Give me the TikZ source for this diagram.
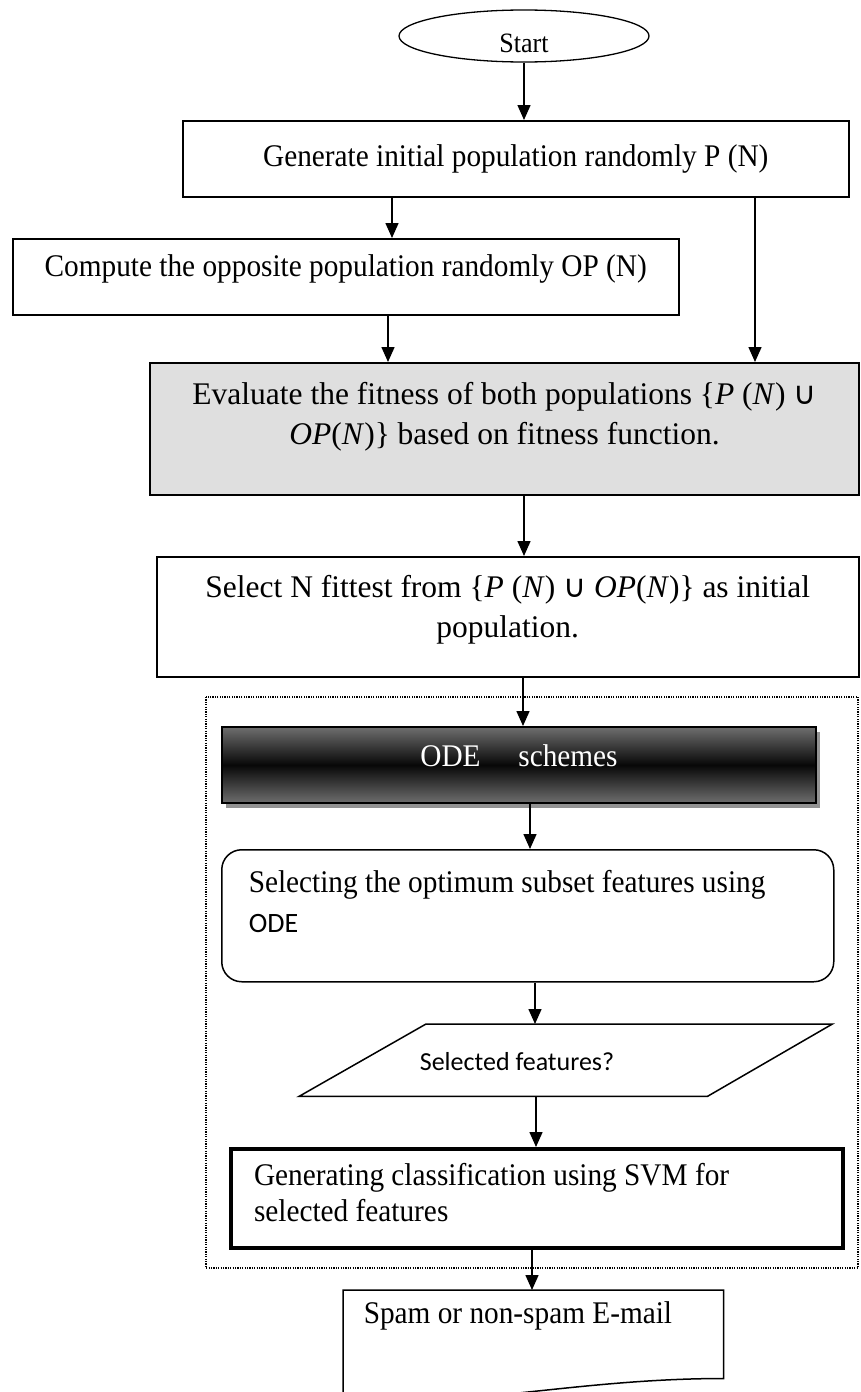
\documentclass[tikz,border=0pt]{standalone}
\usepackage{fontspec}
\setmainfont[FakeStretch=0.93]{Liberation Serif}
\newfontfamily\widefont{Liberation Serif}
\newfontfamily\calibri{Carlito}
\newfontfamily\symfont{DejaVu Sans}
\usetikzlibrary{arrows.meta,shapes.geometric,shadows,calc}
\definecolor{fillgray}{HTML}{DFDFDF}
\definecolor{odegray}{HTML}{6E6E6E}
\newcommand{\boxtxt}[5]{\parbox[c][#2][t]{#1}{#3\vspace*{#4}\strut#5}}
\newcommand{\mathP}{\textit{P}}
\newcommand{\mathN}{\textit{N}}
\newcommand{\mcup}{{\symfont ∪}}
\begin{document}
\begin{tikzpicture}[x=1pt,y=-1pt,
  base/.style={draw,line width=1.5pt,inner sep=0pt,anchor=north west,font=\fontsize{31.5}{40}\selectfont},
  wide/.style={font=\widefont\fontsize{31.5}{40}\selectfont},
  arr/.style={line width=1.5pt,-{Triangle[length=15pt,width=13pt]}}]
\useasboundingbox (0,0) rectangle (860,1392);

% arrow x positions
\coordinate (xa) at (392,0);
\coordinate (xb) at (755,0);
\coordinate (xc) at (388,0);
\coordinate (xd) at (524,0);
\coordinate (xe) at (523,0);
\coordinate (xf) at (530,0);
\coordinate (xg) at (535,0);
\coordinate (xh) at (536,0);
\coordinate (xi) at (532,0);

% dotted frame
\draw[line width=1.1pt,dash pattern=on 1.2pt off 1.2pt] (206,697) rectangle (858,1268);

\node[ellipse,draw,line width=1.3pt,minimum width=250pt,minimum height=52pt,inner sep=0pt,
  font=\fontsize{28}{32}\selectfont] (start) at (524,36) {\raisebox{-16pt}[0pt][0pt]{Start}};

\node[base] (b1) at (182,120)
  {\boxtxt{666pt}{76pt}{\centering}{18pt}{Generate initial population randomly P (N)}};

\node[base] (b2) at (12,238)
  {\boxtxt{666pt}{76pt}{\centering}{10pt}{Compute the opposite population randomly OP (N)}};

\node[base,wide,line width=2pt,fill=fillgray] (b3) at (149,362)
  {\boxtxt{709pt}{132pt}{\centering}{13pt}{Evaluate the fitness of both populations \{\mathP{} (\mathN) \mcup\\
  \textit{OP}(\mathN)\} based on fitness function.}};

\node[base,wide] (b4) at (156,556)
  {\boxtxt{702pt}{120pt}{\centering}{13pt}{Select N fittest from \{\mathP{} (\mathN) \mcup{} \textit{OP}(\mathN)\} as initial\\
  population.}};

\node[base,line width=2pt,text=white,shading=axis,top color=odegray,bottom color=odegray,middle color=black!97,
  drop shadow={shadow xshift=4pt,shadow yshift=-5pt,fill=gray!85,opacity=1}] (ode) at (221,726)
  {\boxtxt{594pt}{76pt}{\centering}{11pt}{ODE\hspace{1.2em}schemes}};

\node[base,rounded corners=20pt] (rnd) at (221,849)
  {\boxtxt{612pt}{132pt}{\raggedright\leftskip=27pt\relax}{15pt}{Selecting the optimum subset features using\\
  {\calibri\fontsize{28}{40}\selectfont ODE}}};

\node[inner sep=0pt,minimum width=533pt,minimum height=72pt,anchor=north west] (para) at (299,1024) {};
\node[inner sep=0pt,font=\calibri\fontsize{26}{30}\selectfont] (paratext) at (517,1062) {Selected features?};
\draw[line width=1.5pt] (para.south west) -- ($(para.south east)+(-125,0)$) -- (para.north east)
  -- ($(para.north west)+(127,0)$) -- cycle;

\node[base,line width=4pt,font=\fontsize{31.5}{36}\selectfont] (svm) at (229,1147)
  {\boxtxt{612pt}{99pt}{\raggedright\leftskip=23pt\relax}{11pt}{Generating classification using SVM for\\
  selected features}};

\node[base,draw=none] (doc) at (343,1290)
  {\boxtxt{379pt}{102pt}{\raggedright\leftskip=20pt\relax}{5pt}{Spam or non-spam E-mail}};
\draw[line width=1.5pt] (doc.south west) -- (doc.north west) -- (doc.north east) -- ([yshift=15pt]doc.south east)
  .. controls +(-80,0) and +(60,-6) .. ($(doc.south)+(-20,0)$);

% connectors
\draw[arr] (start.south) -- (start.south |- b1.north);
\draw[arr] (b1.south -| xa) -- (b2.north -| xa);
\draw[arr] (b1.south -| xb) -- (b3.north -| xb);
\draw[arr] (b2.south -| xc) -- (b3.north -| xc);
\draw[arr] (b3.south -| xd) -- (b4.north -| xd);
\draw[arr] (b4.south -| xe) -- (ode.north -| xe);
\draw[arr] (ode.south -| xf) -- (rnd.north -| xf);
\draw[arr] (rnd.south -| xg) -- (para.north -| xg);
\draw[arr] (para.south -| xh) -- (svm.north -| xh);
\draw[arr] (svm.south -| xi) -- (doc.north -| xi);
\end{tikzpicture}
\end{document}
